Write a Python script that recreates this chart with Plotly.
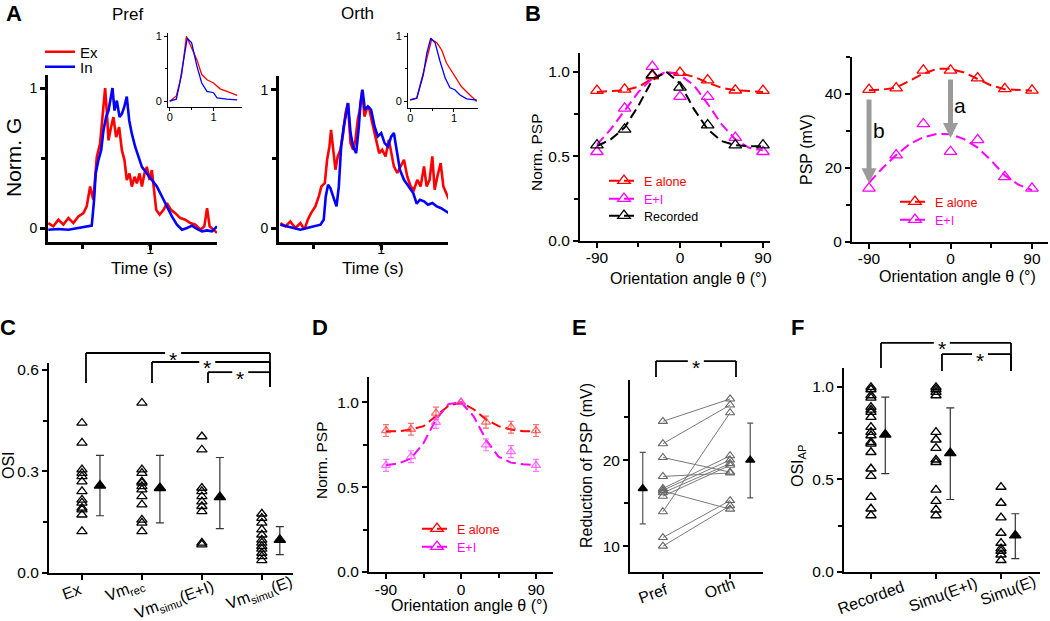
import plotly.graph_objects as go

W, H = 1050, 621
FONT = "Liberation Sans"
RED = "#ff0000"
BLUE = "#0000ff"
MAG = "#ff00ff"
BLK = "#000000"
ARROW = "#9b9b9b"

# ---------------- Panel A : normalised conductances ----------------
pref_ex_t = [0.252, 0.289, 0.326, 0.363, 0.400, 0.436, 0.473, 0.510, 0.534, 0.559,
             0.583, 0.608, 0.632, 0.652, 0.669, 0.681, 0.694, 0.713, 0.730, 0.750,
             0.772, 0.792, 0.811, 0.828, 0.848, 0.865, 0.885, 0.902, 0.922, 0.939,
             0.958, 0.975, 0.995, 1.012, 1.029, 1.044, 1.069, 1.098, 1.123, 1.152,
             1.184, 1.221, 1.257, 1.294, 1.331, 1.368, 1.397, 1.417, 1.436, 1.466, 1.490]
pref_ex_g = [0.035, 0.012, 0.059, 0.024, 0.071, 0.035, 0.083, 0.106, 0.154, 0.296,
             0.201, 0.508, 0.603, 0.839, 1.0, 0.839, 0.626, 0.721, 0.792, 0.650,
             0.721, 0.556, 0.485, 0.343, 0.390, 0.296, 0.366, 0.319, 0.390, 0.296,
             0.390, 0.437, 0.343, 0.414, 0.248, 0.130, 0.095, 0.130, 0.177, 0.130,
             0.106, 0.071, 0.059, 0.035, 0.024, -0.012, 0.012, 0.142, 0.012, -0.012, -0.035]
pref_in_t = [0.252, 0.326, 0.400, 0.473, 0.534, 0.571, 0.588, 0.600, 0.620, 0.640,
             0.657, 0.676, 0.694, 0.706, 0.723, 0.738, 0.755, 0.775, 0.792, 0.809,
             0.828, 0.846, 0.865, 0.890, 0.914, 0.939, 0.975, 1.012, 1.049, 1.086,
             1.123, 1.159, 1.196, 1.233, 1.270, 1.306, 1.343, 1.380, 1.417, 1.453, 1.490]
pref_in_g = [-0.012, -0.007, -0.012, 0.0, 0.007, 0.017, 0.20, 0.39, 0.485, 0.556,
             0.697, 0.792, 0.839, 0.91, 1.0, 0.839, 0.91, 0.792, 0.816, 0.863,
             0.939, 0.768, 0.674, 0.579, 0.508, 0.437, 0.39, 0.343, 0.296, 0.225,
             0.154, 0.083, 0.024, -0.012, 0.0, 0.017, -0.007, -0.024, -0.017, -0.024, 0.012]
orth_ex_t = [0.260, 0.297, 0.333, 0.370, 0.407, 0.436, 0.461, 0.485, 0.517, 0.542,
             0.561, 0.586, 0.603, 0.620, 0.632, 0.647, 0.664, 0.681, 0.701, 0.721,
             0.738, 0.755, 0.775, 0.794, 0.811, 0.828, 0.843, 0.860, 0.877, 0.892,
             0.909, 0.929, 0.946, 0.966, 0.985, 1.007, 1.032, 1.056, 1.076, 1.093,
             1.118, 1.142, 1.167, 1.191, 1.216, 1.240, 1.265, 1.289, 1.314, 1.333,
             1.355, 1.375, 1.392, 1.412, 1.436, 1.456, 1.475, 1.498]
orth_ex_g = [0.036, 0.012, 0.048, 0.0, 0.036, -0.012, 0.060, 0.108, 0.157, 0.229,
             0.301, 0.325, 0.494, 0.590, 0.711, 0.566, 0.422, 0.518, 0.566, 0.687,
             0.831, 0.904, 0.614, 0.566, 0.639, 0.783, 0.855, 1.0, 0.807, 0.855,
             0.880, 0.783, 0.711, 0.614, 0.542, 0.566, 0.518, 0.639, 0.518, 0.446,
             0.398, 0.446, 0.494, 0.373, 0.301, 0.277, 0.349, 0.301, 0.446, 0.301,
             0.349, 0.518, 0.277, 0.373, 0.470, 0.301, 0.253, 0.205]
orth_in_t = [0.260, 0.309, 0.358, 0.407, 0.456, 0.505, 0.554, 0.578, 0.593, 0.610,
             0.627, 0.647, 0.672, 0.689, 0.706, 0.725, 0.745, 0.757, 0.775, 0.794,
             0.816, 0.836, 0.848, 0.863, 0.880, 0.902, 0.926, 0.951, 0.975, 1.000,
             1.025, 1.049, 1.074, 1.093, 1.113, 1.137, 1.167, 1.203, 1.235, 1.260,
             1.284, 1.314, 1.343, 1.375, 1.407, 1.436, 1.466, 1.498]
orth_in_g = [0.024, 0.012, -0.005, -0.012, 0.0, 0.012, 0.024, 0.060, 0.229, 0.313,
             0.289, 0.229, 0.157, 0.301, 0.590, 0.735, 0.831, 0.904, 0.687, 0.590,
             0.542, 0.735, 0.904, 1.0, 0.855, 0.880, 0.855, 0.735, 0.663, 0.687,
             0.614, 0.590, 0.663, 0.687, 0.566, 0.422, 0.349, 0.301, 0.253, 0.176,
             0.205, 0.193, 0.169, 0.181, 0.157, 0.145, 0.128, 0.108]
# insets (averages)
pref_avg_ex_t = [0, 0.15, 0.27, 0.38, 0.5, 0.62, 0.73, 0.85, 1.0, 1.15, 1.38, 1.54]
pref_avg_ex_g = [0, 0.08, 0.4, 1.0, 0.82, 0.64, 0.41, 0.33, 0.28, 0.19, 0.13, 0.09]
pref_avg_in_t = [0, 0.15, 0.23, 0.35, 0.4, 0.5, 0.62, 0.73, 0.85, 1.0, 1.08, 1.3, 1.54]
pref_avg_in_g = [0, 0.03, 0.28, 0.8, 0.97, 0.9, 0.54, 0.28, 0.15, 0.13, 0.05, 0.03, 0.02]
orth_avg_ex_t = [0, 0.15, 0.3, 0.42, 0.49, 0.61, 0.72, 0.83, 0.95, 1.06, 1.17, 1.29, 1.44, 1.52]
orth_avg_ex_g = [0.03, 0.05, 0.44, 0.74, 0.95, 0.9, 0.79, 0.59, 0.46, 0.33, 0.23, 0.15, 0.05, 0.0]
orth_avg_in_t = [0, 0.15, 0.3, 0.38, 0.47, 0.57, 0.68, 0.8, 0.91, 1.02, 1.14, 1.29, 1.52]
orth_avg_in_g = [0.02, 0.05, 0.41, 0.74, 0.97, 0.9, 0.62, 0.36, 0.21, 0.18, 0.1, 0.04, 0.02]

# ---------------- Panel B : orientation tuning ----------------
theta = [-90, -60, -30, 0, 30, 60, 90]
fit_theta = [-90, -75, -60, -45, -30, -15, 0, 15, 30, 45, 60, 75, 90]
bl_e_alone = [0.888, 0.895, 0.974, 0.994, 0.95, 0.89, 0.888]
bl_e_i = [0.527, 0.783, 1.03, 0.852, 0.852, 0.61, 0.527]
bl_recorded = [0.566, 0.659, 0.98, 0.907, 0.684, 0.566, 0.566]
bl_fit_e_alone = [0.88, 0.885, 0.89, 0.91, 0.96, 0.995, 0.99, 0.97, 0.935, 0.905, 0.89, 0.885, 0.88]
bl_fit_e_i = [0.57, 0.66, 0.77, 0.88, 0.96, 1.0, 0.98, 0.92, 0.81, 0.69, 0.6, 0.55, 0.535]
bl_fit_recorded = [0.56, 0.6, 0.67, 0.8, 0.95, 1.0, 0.93, 0.78, 0.66, 0.59, 0.565, 0.56, 0.56]
br_e_alone = [41.2, 41.6, 46.4, 46.4, 44.3, 41.4, 41.0]
br_e_i = [14.5, 23.5, 31.9, 24.4, 27.6, 17.6, 14.5]
br_fit_e_alone = [41.0, 41.2, 41.7, 43.5, 45.5, 46.8, 46.8, 45.8, 44.0, 42.3, 41.3, 41.0, 40.9]
br_fit_e_i = [16.0, 20.0, 23.5, 26.5, 28.3, 29.2, 29.1, 27.8, 25.5, 22.0, 18.0, 15.5, 14.0]

# ---------------- Panel C : OSI ----------------
c_labels = ["Ex", "Vm<sub>rec</sub>", "Vm<sub>simu</sub>(E+I)", "Vm<sub>simu</sub>(E)"]
c_ex = [0.443, 0.384, 0.305, 0.295, 0.285, 0.27, 0.241, 0.216, 0.207, 0.192, 0.187, 0.172, 0.123]
c_vmrec = [0.502, 0.305, 0.295, 0.27, 0.266, 0.256, 0.246, 0.226, 0.202, 0.157, 0.148, 0.123]
c_simu_ei = [0.403, 0.364, 0.251, 0.241, 0.226, 0.211, 0.197, 0.182, 0.089, 0.084]
c_simu_e = [0.175, 0.162, 0.148, 0.128, 0.113, 0.098, 0.089, 0.079, 0.071, 0.059, 0.049, 0.037]
c_mean = [0.258, 0.251, 0.224, 0.098]
c_err_up = [0.089, 0.096, 0.117, 0.039]
c_err_dn = [0.089, 0.103, 0.093, 0.044]

# ---------------- Panel D : population tuning ----------------
d_e_alone = [0.834, 0.842, 0.937, 1.0, 0.884, 0.854, 0.834]
d_e_i = [0.629, 0.68, 0.882, 1.0, 0.75, 0.71, 0.629]
d_err = [0.035, 0.035, 0.035, 0.0, 0.035, 0.035, 0.035]
d_fit_e_alone = [0.83, 0.83, 0.84, 0.86, 0.92, 0.98, 1.0, 0.96, 0.9, 0.86, 0.84, 0.83, 0.83]
d_fit_e_i = [0.63, 0.64, 0.67, 0.76, 0.9, 0.99, 1.0, 0.92, 0.78, 0.68, 0.645, 0.635, 0.63]

# ---------------- Panel E : reduction of PSP ----------------
e_labels = ["Pref", "Orth"]
e_pref = [24.5, 21.9, 14.0, 20.3, 18.1, 16.7, 16.5, 16.2, 15.8, 16.4, 11.0, 10.0]
e_orth = [27.1, 26.4, 25.5, 18.6, 18.5, 20.5, 20.0, 19.6, 19.4, 14.3, 15.3, 14.7]
e_mean = [16.7, 20.0]
e_err_up = [4.2, 4.3]
e_err_dn = [4.1, 4.4]

# ---------------- Panel F : OSI of APs ----------------
f_labels = ["Recorded", "Simu(E+I)", "Simu(E)"]
f_recorded = [0.996, 0.984, 0.952, 0.939, 0.889, 0.874, 0.862, 0.835, 0.781, 0.754,
              0.736, 0.70, 0.691, 0.646, 0.557, 0.517, 0.404, 0.341, 0.305]
f_simu_ei = [0.996, 0.984, 0.97, 0.952, 0.754, 0.713, 0.668, 0.605, 0.592, 0.443, 0.382, 0.336, 0.305]
f_simu_e = [0.458, 0.372, 0.293, 0.21, 0.156, 0.126, 0.113, 0.093, 0.063]
f_mean = [0.741, 0.641, 0.197]
f_err_up = [0.202, 0.244, 0.117]
f_err_dn = [0.211, 0.25, 0.125]

# =================================================================
fig = go.Figure()
layout = dict(width=W, height=H, margin=dict(l=0, r=0, t=0, b=0, pad=0, autoexpand=False),
              paper_bgcolor="white", plot_bgcolor="white",
              font=dict(family=FONT, color="black"), showlegend=True)
ann = []
shapes = []


def px(v):
    return v / W


def py(v):
    return 1 - v / H


def axid(n):
    return ("x" if n == 1 else f"x{n}"), ("y" if n == 1 else f"y{n}")


AX = {}


def add_axes(n, box, xr, yr, xt, xtt, xminor, yt, ytt, yminor,
             lw=2.0, fs=15.5, tl=5, showx=True, xstand=0):
    l, r, t, b = box
    xn, yn = axid(n)
    AX[n] = (xr, yr, r - l)
    common = dict(showline=True, linecolor="black", linewidth=lw, ticks="outside",
                  ticklen=tl, tickwidth=lw, tickcolor="black", showgrid=False,
                  zeroline=False, tickmode="array", fixedrange=True, automargin=False,
                  tickfont=dict(family=FONT, size=fs, color="black"))
    xa = dict(common, domain=[px(l), px(r)], range=xr, anchor=yn,
              tickvals=xt, ticktext=xtt, showticklabels=showx, ticklabelstandoff=xstand)
    ya = dict(common, domain=[py(b), py(t)], range=yr, anchor=xn,
              tickvals=yt, ticktext=ytt)
    if xminor:
        xa["minor"] = dict(tickmode="array", tickvals=xminor, ticks="outside",
                           ticklen=tl - 1, tickwidth=lw, tickcolor="black", showgrid=False)
    if yminor:
        ya["minor"] = dict(tickmode="array", tickvals=yminor, ticks="outside",
                           ticklen=tl - 1, tickwidth=lw, tickcolor="black", showgrid=False)
    layout["xaxis" if n == 1 else f"xaxis{n}"] = xa
    layout["yaxis" if n == 1 else f"yaxis{n}"] = ya


def text(x, y, s, size=16, angle=0, bold=False, color="black", xref="paper", yref="paper",
         xshift=0, yshift=0):
    ann.append(dict(x=x, y=y, xref=xref, yref=yref, text=(f"<b>{s}</b>" if bold else s),
                    showarrow=False, textangle=angle, xanchor="center", yanchor="middle",
                    xshift=xshift, yshift=yshift,
                    font=dict(family=FONT, size=size, color=color)))


def fdom(n, x, y):
    xr, yr, _ = AX[n]
    return (x - xr[0]) / (xr[1] - xr[0]), (y - yr[0]) / (yr[1] - yr[0])


def bracket(n, x0, x1, ytop, yb0, yb1, star_x, lw=1.8, gap_px=8):
    """Significance bracket with a star breaking its top line."""
    xn, yn = axid(n)
    ref = dict(xref=f"{xn} domain", yref=f"{yn} domain", line=dict(color="black", width=lw))
    ax0, ay0 = fdom(n, x0, yb0)
    ax1, ay1 = fdom(n, x1, yb1)
    sx, at = fdom(n, star_x, ytop)
    g = gap_px / AX[n][2]
    shapes.append(dict(ref, type="line", x0=ax0, x1=ax0, y0=ay0, y1=at))
    shapes.append(dict(ref, type="line", x0=ax0, x1=sx - g, y0=at, y1=at))
    shapes.append(dict(ref, type="line", x0=sx + g, x1=ax1, y0=at, y1=at))
    shapes.append(dict(ref, type="line", x0=ax1, x1=ax1, y0=at, y1=ay1))
    ann.append(dict(x=sx, y=at, xref=f"{xn} domain", yref=f"{yn} domain", text="*",
                    showarrow=False, font=dict(family=FONT, size=21, color="black"),
                    yshift=-6, xanchor="center", yanchor="middle"))


def line_trace(n, x, y, color, width=2.5, dash=None, name=None, legend=None, opacity=1.0):
    xn, yn = axid(n)
    fig.add_trace(go.Scatter(x=x, y=y, mode="lines", xaxis=xn, yaxis=yn,
                             line=dict(color=color, width=width, dash=dash),
                             name=name or "", showlegend=legend is not None,
                             legend=legend or "legend", opacity=opacity, hoverinfo="skip"))


def marker_trace(n, x, y, color, size=10, symbol="triangle-up-open", lw=1.3, err=None,
                 errdn=None, errcolor=None, capw=3, opacity=1.0):
    xn, yn = axid(n)
    kw = {}
    if err is not None:
        kw["error_y"] = dict(type="data", array=err, arrayminus=errdn if errdn is not None else err,
                             color=errcolor or color, thickness=1.2, width=capw, visible=True)
    fig.add_trace(go.Scatter(x=x, y=y, mode="markers", xaxis=xn, yaxis=yn,
                             marker=dict(symbol=symbol, size=size, color=color,
                                         line=dict(color=color, width=lw)),
                             showlegend=False, opacity=opacity, hoverinfo="skip", **kw))


def legend_item(n, name, color, lg, msize=11, dash="10px,5px"):
    xn, yn = axid(n)
    fig.add_trace(go.Scatter(x=[None], y=[None], mode="lines+markers", xaxis=xn, yaxis=yn,
                             name=name, legend=lg, showlegend=True,
                             line=dict(color=color, width=2, dash=dash),
                             marker=dict(symbol="triangle-up-open", size=msize, color=color,
                                         line=dict(color=color, width=1.3))))


def legend_box(lg, x_text, y_center, color, size=12.5):
    layout[lg] = dict(x=px(x_text - 42), y=py(y_center), xanchor="left", yanchor="middle",
                      bgcolor="rgba(0,0,0,0)", borderwidth=0, itemwidth=30,
                      font=dict(family=FONT, size=size, color=color),
                      itemclick=False, itemdoubleclick=False)


# ---------------- axes ----------------
A_xr = [0.25, 1.49]
add_axes(1, (48, 217, 75, 242), A_xr, [-0.1, 1.093], [1], ["1"], [0.5], [0, 1], ["0", "1"], [0.5],
         lw=2.6, fs=14, xstand=-13)
add_axes(2, (168, 242, 33, 107), [-0.04, 1.65], [-0.09, 1.05], [0, 1], ["0", "1"], [0.5],
         [0, 1], ["0", "1"], [0.5], lw=1, fs=11, tl=3, xstand=-3)
add_axes(3, (279, 448, 76, 242), A_xr, [-0.101, 1.10], [1], ["1"], [0.5], [0, 1], ["0", "1"], [0.5],
         lw=2.6, fs=14, xstand=-13)
add_axes(4, (408, 478, 33, 108), [-0.05, 1.55], [-0.1, 1.05], [0, 1], ["0", "1"], [0.5],
         [0, 1], ["0", "1"], [0.5], lw=1, fs=11, tl=3, xstand=-3)

add_axes(5, (580, 770, 53, 241), [-108.4, 97.6], [0, 1.11], [-90, 0, 90], ["-90", "0", "90"],
         [-45, 45], [0, 0.5, 1.0], ["0.0", "0.5", "1.0"], [0.25, 0.75], xstand=-4)
add_axes(6, (852, 1048, 57, 242), [-108.8, 107.7], [0, 50], [-90, 0, 90], ["-90", "0", "90"],
         [-45, 45], [0, 20, 40], ["0", "20", "40"], [10, 30, 50], xstand=-4)
add_axes(7, (49, 293, 363, 573), [0.45, 4.52], [0, 0.62], [1, 2, 3, 4], ["", "", "", ""], None,
         [0, 0.3, 0.6], ["0.0", "0.3", "0.6"], [0.15, 0.45], showx=False)
add_axes(8, (369, 553, 377, 572), [-110.4, 110.4], [0, 1.15], [-90, 0, 90], ["-90", "0", "90"],
         [-45, 45], [0, 0.5, 1.0], ["0.0", "0.5", "1.0"], [0.25, 0.75], xstand=-3)
add_axes(9, (630, 763, 380, 572), [0.51, 2.49], [7, 29.3], [1, 2], ["", ""], None,
         [10, 20], ["10", "20"], [15, 25], showx=False)
add_axes(10, (844, 1040, 368, 572), [0.585, 3.6], [0, 1.1], [1, 2, 3], ["", "", ""], None,
         [0, 0.5, 1.0], ["0.0", "0.5", "1.0"], [0.25, 0.75], showx=False)

# ---------------- Panel A traces ----------------
line_trace(1, pref_ex_t, pref_ex_g, RED, 2.6, name="Ex", legend="legend")
line_trace(1, pref_in_t, pref_in_g, BLUE, 2.6, name="In", legend="legend2")
line_trace(2, pref_avg_ex_t, pref_avg_ex_g, RED, 1.3)
line_trace(2, pref_avg_in_t, pref_avg_in_g, BLUE, 1.3)
line_trace(3, orth_ex_t, orth_ex_g, RED, 2.6)
line_trace(3, orth_in_t, orth_in_g, BLUE, 2.6)
line_trace(4, orth_avg_ex_t, orth_avg_ex_g, RED, 1.3)
line_trace(4, orth_avg_in_t, orth_avg_in_g, BLUE, 1.3)
legend_box("legend", 82, 52, "black", size=15)
legend_box("legend2", 82, 67, "black", size=15)

# ---------------- Panel B traces ----------------
DASH = "10px,5px"
line_trace(5, fit_theta, bl_fit_e_alone, RED, 2, dash=DASH)
line_trace(5, fit_theta, bl_fit_e_i, MAG, 2, dash=DASH)
line_trace(5, fit_theta, bl_fit_recorded, BLK, 2, dash=DASH)
marker_trace(5, theta, bl_e_alone, RED, 11)
marker_trace(5, theta, bl_e_i, MAG, 11)
marker_trace(5, theta, bl_recorded, BLK, 11)
legend_item(5, "E alone", RED, "legend3")
legend_item(5, "E+I", MAG, "legend4")
legend_item(5, "Recorded", BLK, "legend5")
legend_box("legend3", 646, 181, RED)
legend_box("legend4", 646, 199, MAG)
legend_box("legend5", 646, 216, BLK)

line_trace(6, fit_theta, br_fit_e_alone, RED, 2, dash=DASH)
line_trace(6, fit_theta, br_fit_e_i, MAG, 2, dash=DASH)
marker_trace(6, theta, br_e_alone, RED, 11)
marker_trace(6, theta, br_e_i, MAG, 11)
legend_item(6, "E alone", RED, "legend6")
legend_item(6, "E+I", MAG, "legend7")
legend_box("legend6", 937, 202, RED)
legend_box("legend7", 937, 220, MAG)
# arrows a and b (E alone -> E+I)
for (xa, y0, y1) in [(theta[3], 44.3, 28.1), (theta[0], 38.9, 15.9)]:
    ann.append(dict(x=xa, y=y1, ax=xa, ay=y0, xref="x6", yref="y6", axref="x6", ayref="y6",
                    showarrow=True, arrowhead=2, arrowsize=0.6, arrowwidth=5,
                    arrowcolor=ARROW, text=""))
text(11, 37, "a", 21, xref="x6", yref="y6")
text(-79, 30, "b", 21, xref="x6", yref="y6")

# ---------------- Panel C ----------------
for i, vals in enumerate([c_ex, c_vmrec, c_simu_ei, c_simu_e]):
    marker_trace(7, [i + 1] * len(vals), vals, BLK, 9, lw=1.3)
marker_trace(7, [i + 1.3 for i in range(4)], c_mean, BLK, 10, symbol="triangle-up",
             err=c_err_up, errdn=c_err_dn, errcolor="#333333", capw=4)
bracket(7, 1.067, 4.136, 0.6495, 0.561, 0.549, 2.52)
bracket(7, 2.168, 4.136, 0.623, 0.561, 0.549, 3.09)
bracket(7, 3.102, 4.136, 0.593, 0.561, 0.549, 3.64)
for i, (lab, dx, yc) in enumerate(zip(c_labels, [-10, -17, -27, -2], [591, 590, 600, 593])):
    text(i + 1, py(yc), lab, 16, angle=-20, xref="x7", xshift=dx)

# ---------------- Panel D ----------------
LRED = "rgba(255,60,60,0.75)"
LMAG = "rgba(255,60,255,0.7)"
line_trace(8, fit_theta, d_fit_e_alone, RED, 2, dash=DASH)
line_trace(8, fit_theta, d_fit_e_i, MAG, 2, dash=DASH)
marker_trace(8, theta, d_e_alone, LRED, 8, err=d_err, capw=3)
marker_trace(8, theta, d_e_i, LMAG, 8, err=d_err, capw=3)
legend_item(8, "E alone", RED, "legend8")
legend_item(8, "E+I", MAG, "legend9")
legend_box("legend8", 459, 529, RED)
legend_box("legend9", 459, 547, MAG)

# ---------------- Panel E ----------------
ex_, ey_ = [], []
for a, b in zip(e_pref, e_orth):
    ex_ += [1, 2, None]
    ey_ += [a, b, None]
fig.add_trace(go.Scatter(x=ex_, y=ey_, mode="lines", xaxis="x9", yaxis="y9",
                         line=dict(color="#7a7a7a", width=1), showlegend=False, hoverinfo="skip"))
marker_trace(9, [1] * len(e_pref), e_pref, "#666666", 8, lw=1.1)
marker_trace(9, [2] * len(e_orth), e_orth, "#666666", 8, lw=1.1)
marker_trace(9, [0.7, 2.3], e_mean, BLK, 8, symbol="triangle-up",
             err=e_err_up, errdn=e_err_dn, errcolor="#555555", capw=3)
bracket(9, 0.897, 2.088, 31.5, 29.65, 29.65, 1.49)
text(1, py(593), e_labels[0], 16, angle=-20, xref="x9", xshift=-10)
text(2, py(588), e_labels[1], 16, angle=-20, xref="x9", xshift=-11)

# ---------------- Panel F ----------------
for i, vals in enumerate([f_recorded, f_simu_ei, f_simu_e]):
    marker_trace(10, [i + 1] * len(vals), vals, BLK, 9, lw=1.4)
marker_trace(10, [i + 1.22 for i in range(3)], f_mean, BLK, 10, symbol="triangle-up",
             err=f_err_up, errdn=f_err_dn, errcolor="#333333", capw=4)
bracket(10, 1.154, 3.154, 1.235, 1.10, 1.084, 2.09)
bracket(10, 2.092, 3.154, 1.175, 1.084, 1.084, 2.677)
for i, (lab, yc) in enumerate(zip(f_labels, [597, 594, 590])):
    text(i + 1, py(yc), lab, 16, angle=-20, xref="x10", xshift=[0, 7, 7][i])

# ---------------- titles / labels ----------------
text(px(13), py(158), "Norm. G", 21, angle=-90)
text(px(142), py(269), "Time (s)", 17)
text(px(373), py(269), "Time (s)", 17)
text(px(127), py(15), "Pref", 17)
text(px(357), py(14), "Orth", 17)
text(px(537), py(152), "Norm. PSP", 15.5, angle=-90)
text(px(688), py(278), "Orientation angle θ (°)", 16)
text(px(807), py(150), "PSP (mV)", 16, angle=-90)
text(px(957), py(276), "Orientation angle θ (°)", 16)
text(px(8), py(465), "OSI", 16, angle=-90)
text(px(321), py(460), "Norm. PSP", 15.5, angle=-90)
text(px(469), py(605), "Orientation angle θ (°)", 16)
text(px(586), py(466), "Reduction of PSP (mV)", 16, angle=-90)
text(px(798), py(466), "OSI<sub>AP</sub>", 16, angle=-90)
for lab, x, y in [("A", 14, 14), ("B", 533, 14), ("C", 8, 327), ("D", 320, 327),
                  ("E", 579, 327), ("F", 797, 327)]:
    text(px(x), py(y), lab, 22, bold=True)

layout["annotations"] = ann
layout["shapes"] = shapes
fig.update_layout(**layout)
fig.write_html("out.html", config={"displayModeBar": False},
               post_script="document.body.style.margin='0px';")
